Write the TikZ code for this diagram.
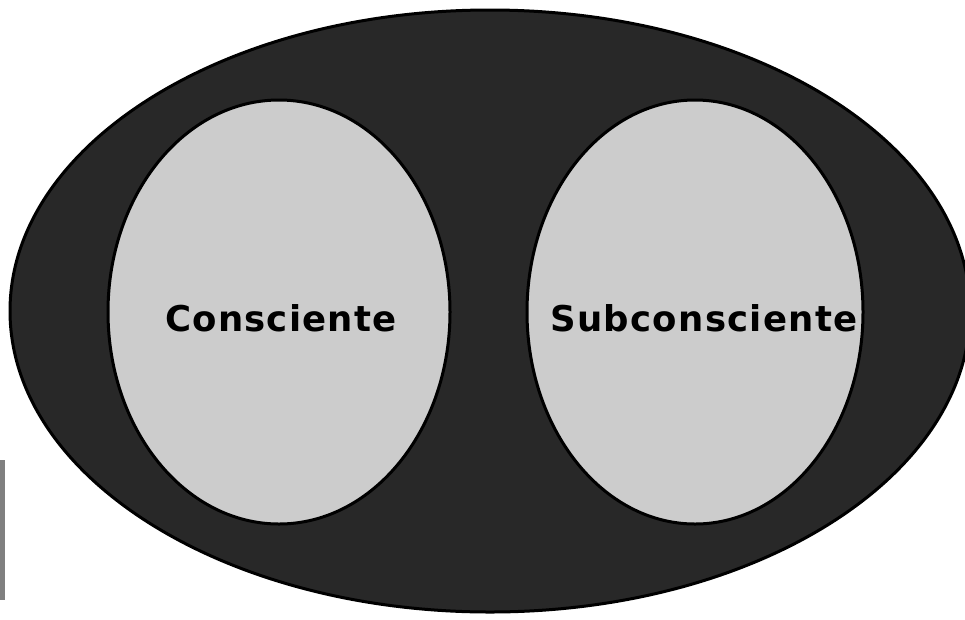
\documentclass[tikz,border=0pt]{standalone}
\usepackage{fontspec}
\setmainfont{DejaVu Sans}
\begin{document}
\begin{tikzpicture}[x=1pt,y=-1pt,
  outer/.style={draw=black,line width=3pt,fill=darkfill},
  inner/.style={draw=black,line width=3pt,fill=lightfill},
  lbl/.style={font=\fontsize{35.5}{38}\selectfont\bfseries\addfontfeature{LetterSpace=3.5},text=black}]
\definecolor{darkfill}{HTML}{282828}
\definecolor{lightfill}{HTML}{CCCCCC}
\definecolor{barfill}{HTML}{808080}
\useasboundingbox (0,0) rectangle (965,619);
\clip (0,0) rectangle (965,619);
\fill[white] (0,0) rectangle (965,619);
\fill[barfill] (0,460) rectangle (5,600);
\draw[outer] (490,311) ellipse [x radius=480, y radius=301];
\draw[inner] (279,312) ellipse [x radius=171, y radius=212];
\draw[inner] (695,312) ellipse [x radius=168, y radius=212];
\node[lbl] (c) at (281,318) {Consciente};
\node[lbl] (s) at (704,318) {Subconsciente};
\end{tikzpicture}
\end{document}
